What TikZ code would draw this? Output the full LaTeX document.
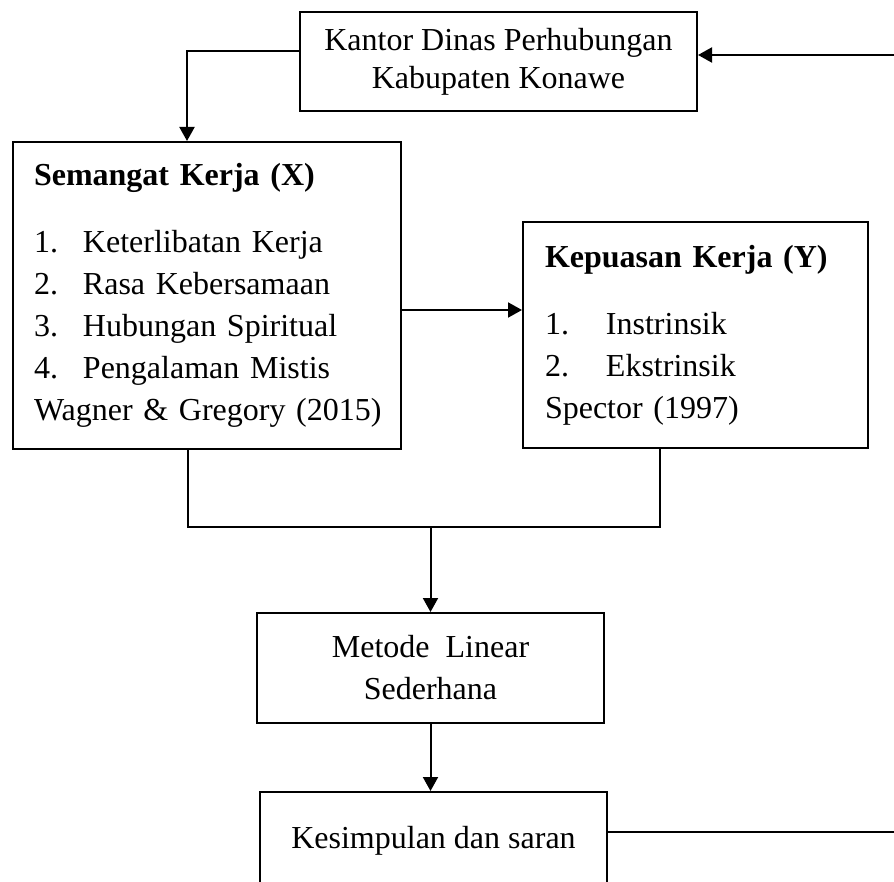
\documentclass[tikz,border=0pt]{standalone}
\usepackage{fontspec}
\setmainfont{Liberation Serif}
\usetikzlibrary{arrows.meta}

\tikzset{
	kotak/.style={draw, line width=1pt, inner sep=0pt, font=\fontsize{16}{21}\selectfont},
}

\begin{document}
\begin{tikzpicture}[x=0.5pt, y=-0.5pt, line width=1pt, >={Triangle[length=7pt,width=7.5pt]}]
	\clip (0,0) rectangle (894,882);
	\node[kotak, align=center, minimum width=198.5pt, minimum height=49.5pt,
		font=\fontsize{16}{19}\selectfont] (kantor) at (498.5,61.5)
		{Kantor Dinas Perhubungan\\Kabupaten Konawe};
	\node[kotak, align=left, inner xsep=10.5pt, text width=173pt, minimum height=153.5pt] (semangat) at (207,295.5)
		{\textbf{Semangat Kerja (X)}\\[12.5pt]
		\makebox[24.5pt][l]{1.}Keterlibatan Kerja\\
		\makebox[24.5pt][l]{2.}Rasa Kebersamaan\\
		\makebox[24.5pt][l]{3.}Hubungan Spiritual\\
		\makebox[24.5pt][l]{4.}Pengalaman Mistis\\
		\mbox{Wagner \& Gregory (2015)}};
	\node[kotak, align=left, inner xsep=11pt, text width=150.5pt, minimum height=113pt] (kepuasan) at (695.5,335)
		{\textbf{Kepuasan Kerja (Y)}\\[12.5pt]
		\makebox[30.5pt][l]{1.}Instrinsik\\
		\makebox[30.5pt][l]{2.}Ekstrinsik\\
		Spector (1997)};
	\node[kotak, align=center, minimum width=173.5pt, minimum height=55pt] (metode) at (430.5,668)
		{Metode~ Linear\\Sederhana};
	\node[kotak, minimum width=173.5pt, text height=28pt, text depth=40pt, anchor=north] (kesimpulan) at (433.5,791)
		{Kesimpulan dan saran};

	\coordinate (kiri) at (187,51);
	\coordinate (kanan) at (894,55);
	\coordinate (tengah) at (0,310);
	\coordinate (kiribawah) at (188,527);
	\coordinate (kananbawah) at (660,527);
	\coordinate (ujung) at (894,832);

	\draw[->] (kantor.west |- kiri) -- (kiri) -- (kiri |- semangat.north);
	\draw[->] (kanan) -- (kantor.east |- kanan);
	\draw[->] (semangat.east |- tengah) -- (kepuasan.west |- tengah);
	\draw (kiribawah |- semangat.south) -- (kiribawah) -- (kananbawah) -- (kananbawah |- kepuasan.south);
	\draw[->] (metode.north |- kiribawah) -- (metode.north);
	\draw[->] (metode.south) -- (metode.south |- kesimpulan.north);
	\draw (kesimpulan.east |- ujung) -- (ujung);
\end{tikzpicture}
\end{document}
